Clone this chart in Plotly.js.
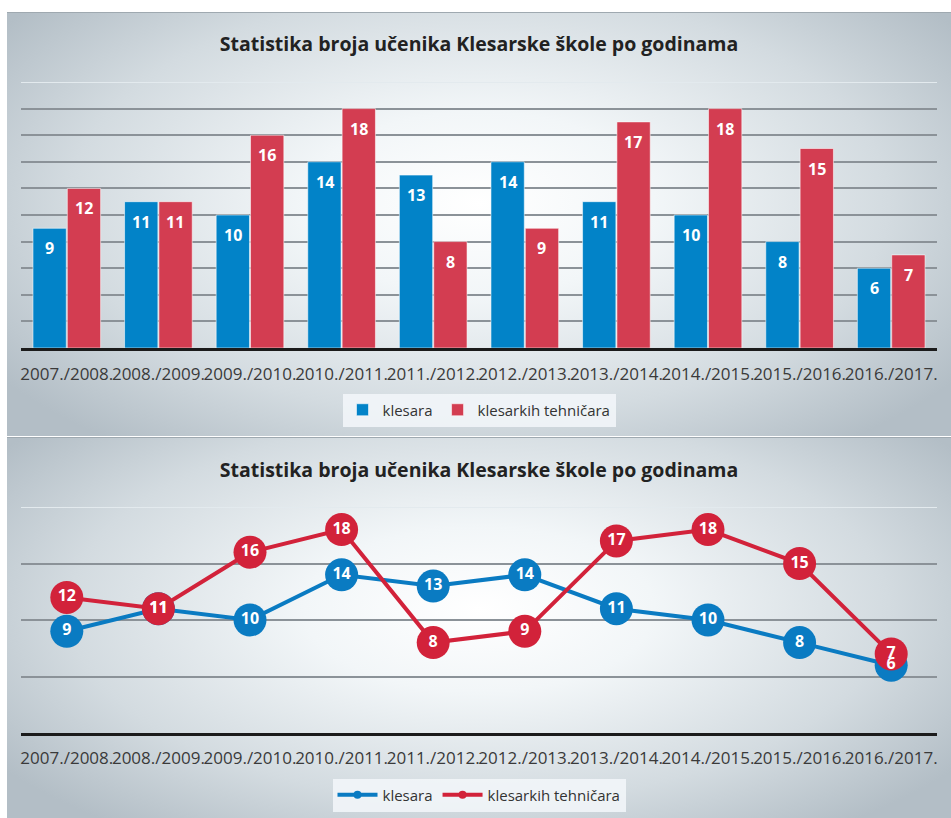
<!DOCTYPE html>
<html>
<head>
<meta charset="utf-8">
<script src="https://cdn.plot.ly/plotly-3.0.1.min.js"></script>
<style>
  html, body { margin: 0; padding: 0; background: #ffffff; width: 951px; height: 818px; overflow: hidden; }
  .panel {
    position: absolute; left: 7px; width: 944px;
    background: radial-gradient(ellipse 62% 72% at 50% 45%, #ffffff 0%, #f2f6f8 30%, #d3dbe0 70%, #b3bec6 100%);
    border-top: 1px solid #9fa9b0;
  }
  #p1 { top: 12px; height: 423px; }
  #p2 { top: 437px; height: 381px; }
</style>
</head>
<body>
<div id="p1" class="panel"></div>
<div id="p2" class="panel"></div>
<script>
// ---- data ----
const titleText = 'Statistika broja učenika Klesarske škole po godinama';
const categories = ['2007./2008.', '2008./2009.', '2009./2010.', '2010./2011.', '2011./2012.',
                    '2012./2013.', '2013./2014.', '2014./2015.', '2015./2016.', '2016./2017.'];
const seriesNames = ['klesara', 'klesarkih tehničara'];
const klesara = [9, 11, 10, 14, 13, 14, 11, 10, 8, 6];
const tehnicara = [12, 11, 16, 18, 8, 9, 17, 18, 15, 7];

// ---- styles ----
const FONT = '"Open Sans", "Noto Sans", sans-serif';
const barBlue = '#0283c8';
const barRed = '#d33d51';
const lineBlue = '#0a7bc2';
const lineRed = '#d2223a';

// ---------- Chart 1: grouped bars ----------
const barTraces = [
  { type: 'bar', name: seriesNames[0], x: categories, y: klesara,
    marker: { color: barBlue, line: { color: 'rgba(255,255,255,0.55)', width: 1 } }, hoverinfo: 'y' },
  { type: 'bar', name: seriesNames[1], x: categories, y: tehnicara,
    marker: { color: barRed, line: { color: 'rgba(255,255,255,0.55)', width: 1 } }, hoverinfo: 'y' }
];

const barLabels = [];
categories.forEach((c, i) => {
  barLabels.push({ x: c, y: klesara[i], xref: 'x', yref: 'y', text: String(klesara[i]),
    showarrow: false, xshift: -17, yshift: -20, yanchor: 'middle',
    font: { family: FONT, size: 16, color: '#ffffff', weight: 'bold' } });
  barLabels.push({ x: c, y: tehnicara[i], xref: 'x', yref: 'y', text: String(tehnicara[i]),
    showarrow: false, xshift: 17, yshift: -20, yanchor: 'middle',
    font: { family: FONT, size: 16, color: '#ffffff', weight: 'bold' } });
});

const xAxisCommon = {
  type: 'category', categoryarray: categories, range: [-0.5, categories.length - 0.5],
  showgrid: false, zeroline: false, showline: true, linecolor: '#1b1b1b', linewidth: 3,
  ticks: '', tickangle: 0, tickfont: { family: FONT, size: 17, color: '#3a3a3a' }, fixedrange: true
};

const layout1 = {
  width: 944, height: 423,
  margin: { l: 14, r: 14, t: 69, b: 88 },
  paper_bgcolor: 'rgba(0,0,0,0)', plot_bgcolor: 'rgba(0,0,0,0)',
  font: { family: FONT, color: '#333333' },
  title: { text: '<b>' + titleText + '</b>', font: { family: FONT, size: 19.5, color: '#222222' },
           x: 0.5, xanchor: 'center', xref: 'container', y: 1 - 31 / 423, yanchor: 'middle', yref: 'container' },
  barmode: 'group', bargap: 0.25, bargroupgap: 0.03,
  xaxis: Object.assign({}, xAxisCommon, { ticklabelstandoff: 9 }),
  yaxis: { range: [0, 20], dtick: 2, showticklabels: false, showgrid: true, gridcolor: '#8b9298', gridwidth: 2,
           zeroline: false, showline: false, fixedrange: true },
  shapes: [{ type: 'line', xref: 'paper', x0: 0, x1: 1, yref: 'y', y0: 20, y1: 20,
             line: { color: '#e3eaee', width: 2 }, layer: 'above' }],
  annotations: barLabels,
  showlegend: true,
  legend: { orientation: 'h', x: 0.5, xanchor: 'center', xref: 'container', y: 1 - 397 / 423, yanchor: 'middle', yref: 'container',
            bgcolor: 'rgba(243,247,250,0.85)', borderwidth: 0, font: { family: FONT, size: 15, color: '#333333' },
            itemwidth: 30, traceorder: 'normal' }
};

Plotly.newPlot('p1', barTraces, layout1, { displayModeBar: false, staticPlot: true });

// ---------- Chart 2: lines with labelled markers ----------
const labelFont = { family: FONT, size: 16, color: '#ffffff', weight: 'bold' };
const lineTraces = [
  { type: 'scatter', mode: 'lines+markers', name: seriesNames[0], x: categories, y: klesara,
    line: { color: lineBlue, width: 4 }, marker: { color: lineBlue, size: 33 }, showlegend: false, cliponaxis: false },
  { type: 'scatter', mode: 'lines+markers', name: seriesNames[1], x: categories, y: tehnicara,
    line: { color: lineRed, width: 4 }, marker: { color: lineRed, size: 33 }, showlegend: false, cliponaxis: false },
  // value labels drawn above all markers
  { type: 'scatter', mode: 'text', name: seriesNames[0], x: categories, y: klesara,
    text: klesara.map(String), textposition: 'middle center', textfont: labelFont, showlegend: false, cliponaxis: false },
  { type: 'scatter', mode: 'text', name: seriesNames[1], x: categories, y: tehnicara,
    text: tehnicara.map(String), textposition: 'middle center', textfont: labelFont, showlegend: false, cliponaxis: false },
  // legend entries (small markers like the original legend)
  { type: 'scatter', mode: 'lines+markers', name: seriesNames[0], x: [null], y: [null],
    line: { color: lineBlue, width: 4 }, marker: { color: lineBlue, size: 8 }, showlegend: true },
  { type: 'scatter', mode: 'lines+markers', name: seriesNames[1], x: [null], y: [null],
    line: { color: lineRed, width: 4 }, marker: { color: lineRed, size: 8 }, showlegend: true }
];

const layout2 = {
  width: 944, height: 381,
  margin: { l: 14, r: 14, t: 69, b: 86 },
  paper_bgcolor: 'rgba(0,0,0,0)', plot_bgcolor: 'rgba(0,0,0,0)',
  font: { family: FONT, color: '#333333' },
  title: { text: '<b>' + titleText + '</b>', font: { family: FONT, size: 19.5, color: '#222222' },
           x: 0.5, xanchor: 'center', xref: 'container', y: 1 - 32 / 381, yanchor: 'middle', yref: 'container' },
  xaxis: Object.assign({}, xAxisCommon, { ticklabelstandoff: 8 }),
  yaxis: { range: [0, 20], dtick: 5, showticklabels: false, showgrid: true, gridcolor: '#8b9298', gridwidth: 2,
           zeroline: false, showline: false, fixedrange: true },
  shapes: [{ type: 'line', xref: 'paper', x0: 0, x1: 1, yref: 'y', y0: 20, y1: 20,
             line: { color: '#e3eaee', width: 2 }, layer: 'below' }],
  showlegend: true,
  legend: { orientation: 'h', x: 0.5, xanchor: 'center', xref: 'container', y: 1 - 357 / 381, yanchor: 'middle', yref: 'container',
            bgcolor: 'rgba(243,247,250,0.85)', borderwidth: 0, font: { family: FONT, size: 15, color: '#333333' },
            itemwidth: 40, traceorder: 'normal' }
};

Plotly.newPlot('p2', lineTraces, layout2, { displayModeBar: false, staticPlot: true });
</script>
</body>
</html>
